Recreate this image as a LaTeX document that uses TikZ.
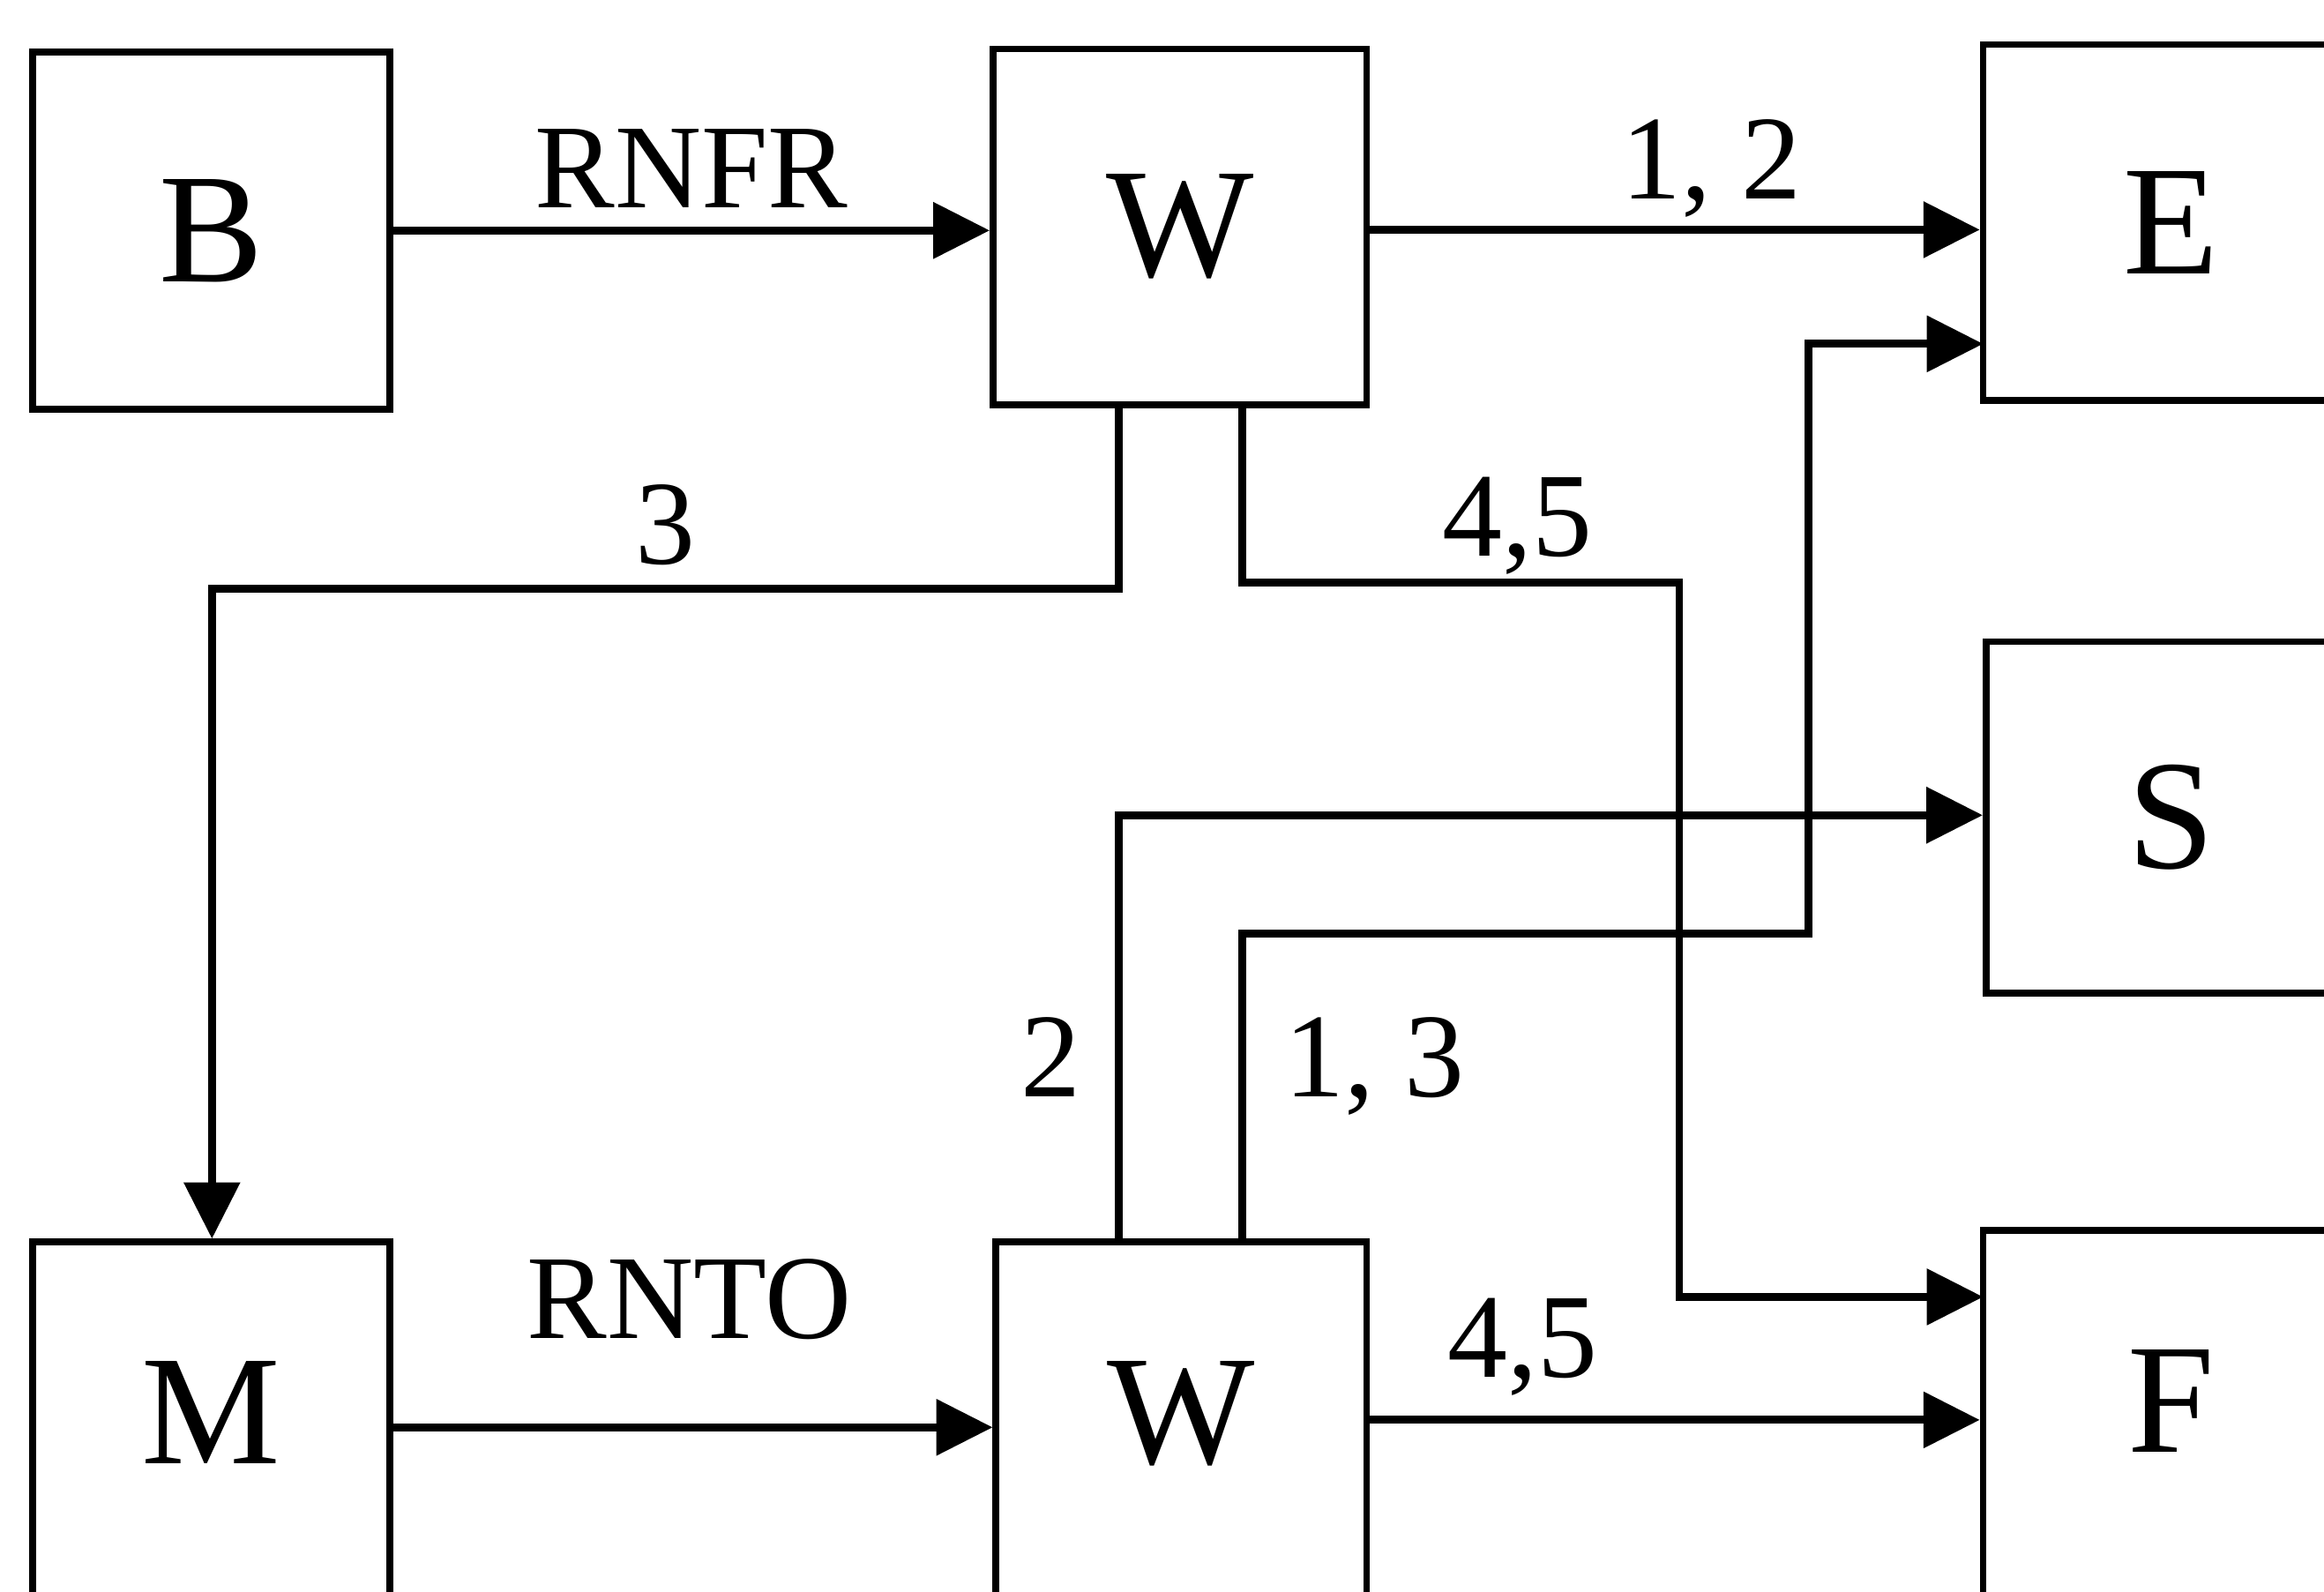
\documentclass[tikz,border=0pt]{standalone}
\usepackage{fontspec}
\setmainfont{Liberation Serif}
\usetikzlibrary{arrows.meta}

\tikzset{
	box/.style={draw, line width=1.3pt, inner sep=0pt, font=\fontsize{30}{30}\selectfont},
	lowbox/.style={box, minimum height=2.8cm, text depth=0.5cm},
	lbl/.style={inner sep=0pt, text depth=0pt, font=\fontsize{23}{23}\selectfont},
	flow/.style={line width=1.5pt, -{Triangle[length=0.38cm, width=0.37cm]}},
}

\begin{document}
\begin{tikzpicture}
	
	\clip (0,0) rectangle (15.68,10.74);
	
	% Upper row
	\node[box, minimum width=2.41cm, minimum height=2.41cm] (B) at (1.425,9.185) {B};
	\node[box, minimum width=2.52cm, minimum height=2.40cm] (Wup) at (7.96,9.21) {W};
	\node[box, minimum width=2.54cm, minimum height=2.40cm] (E) at (14.65,9.24) {E};
	\node[box, minimum width=2.50cm, minimum height=2.37cm] (S) at (14.65,5.225) {S};
	
	% Lower row
	\node[lowbox, minimum width=2.41cm] (M) at (1.425,0.96) {M};
	\node[lowbox, minimum width=2.50cm] (Wlow) at (7.97,0.96) {W};
	\node[lowbox, minimum width=2.54cm] (F) at (14.65,1.04) {F};
	
	% Ends of the routed lines
	\coordinate (Ein) at (13.38,8.42);
	\coordinate (Fin) at (13.38,1.99);
	
	% Straight arrows
	\draw[flow] (B.east) -- (B.east -| Wup.west) node[lbl, midway, above=0.13cm] (rnfr) {RNFR};
	\draw[flow] (Wup.east |- 0,9.19) -- (E.west |- 0,9.19) node[lbl, pos=0.56, above=0.18cm] (l12) {1, 2};
	\draw[flow] (M.east |- 0,1.11) -- (Wlow.west |- 0,1.11);
	\draw[flow] (Wlow.east |- 0,1.16) -- (F.west |- 0,1.16) node[lbl, pos=0.25, above=0.26cm] (l45b) {4,5};
	\node[lbl] (rnto) at (4.65,1.98) {RNTO};
	
	% From upper W down
	\draw[flow] (7.55,0 |- Wup.south) -- (7.55,6.77) -- node[lbl, midway, above=0.14cm] (l3) {3} (1.43,6.77) -- (1.43,0 |- M.north);
	\draw[flow] (8.38,0 |- Wup.south) -- (8.38,6.81) -- node[lbl, pos=0.63, above=0.15cm] (l45a) {4,5} (11.33,6.81) -- (11.33,1.99) -- (Fin);
	
	% From lower W up
	\draw[flow] (7.55,0 |- Wlow.north) -- (7.55,5.24) -- (S.west |- 0,5.24);
	\draw[flow] (8.38,0 |- Wlow.north) -- (8.38,4.44) -- (12.20,4.44) -- (12.20,8.42) -- (Ein);
	\node[lbl, anchor=base east] (l2) at (7.30,3.34) {2};
	\node[lbl, anchor=base west] (l13) at (8.66,3.34) {1, 3};
	
\end{tikzpicture}
\end{document}
